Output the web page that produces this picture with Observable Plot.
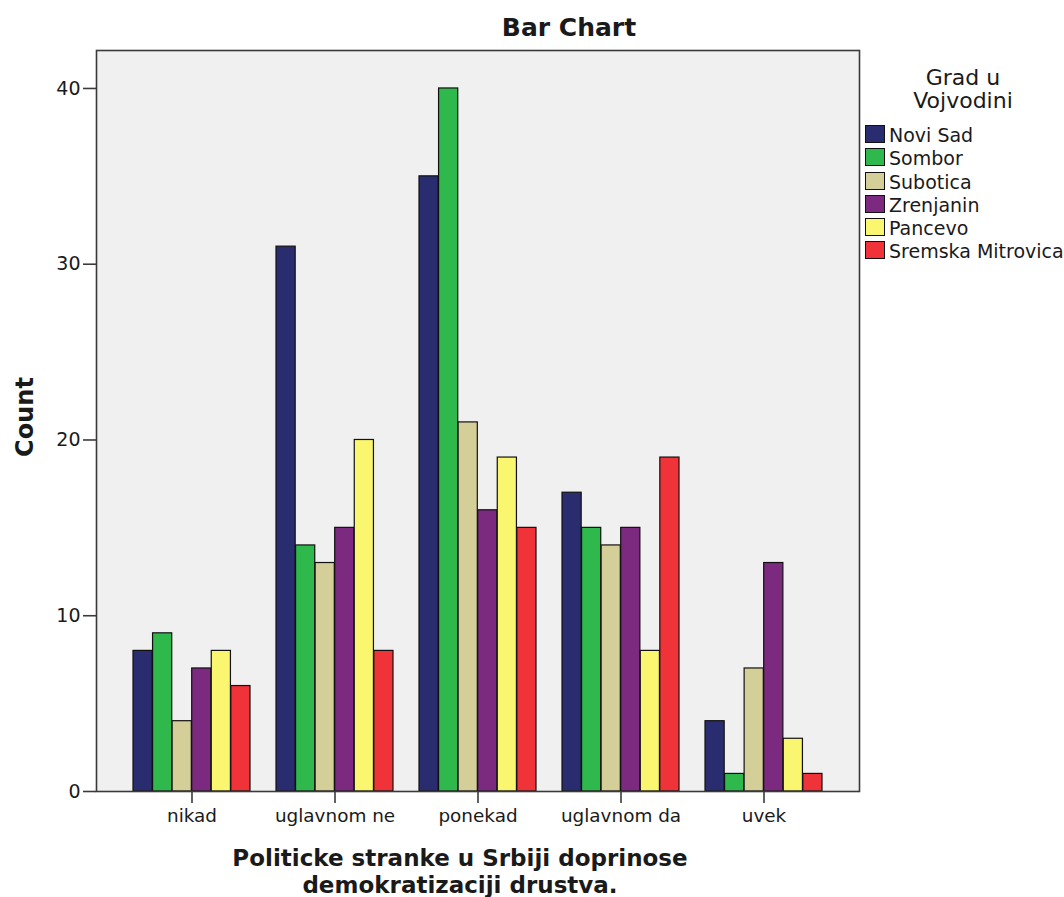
<!DOCTYPE html>
<html>
<head>
<meta charset="utf-8">
<script src="https://cdn.jsdelivr.net/npm/d3@7"></script>
<script src="https://cdn.jsdelivr.net/npm/@observablehq/plot@0.6"></script>
<style>
  html, body { margin: 0; padding: 0; background: #fff; }
  body { width: 1064px; height: 897px; position: relative; overflow: hidden; font-family: "DejaVu Sans", sans-serif; color: #1a1a1a; }
  #chart { position: absolute; left: 0; top: 0; }
  .abs { position: absolute; white-space: nowrap; }
  #title { left: 419px; width: 300px; top: 15px; text-align: center; font-weight: bold; font-size: 25px; line-height: 25px; }
  #ylab { left: 25px; top: 417px; transform: translate(-50%, -50%) rotate(-90deg); font-weight: bold; font-size: 24px; line-height: 24px; }
  .xlab { left: 160px; width: 600px; height: 27px; text-align: center; font-weight: bold; font-size: 23px; line-height: 27px; }
  #xlab1 { top: 844.5px; }
  #xlab2 { top: 871.5px; }
  #legend-title { left: 888px; width: 150px; top: 66px; text-align: center; font-size: 22px; line-height: 23px; }
  #legend { left: 865px; top: 124px; font-size: 19px; }
  .item { height: 23.3px; line-height: 23.3px; display: flex; align-items: flex-start; }
  .sw { width: 18px; height: 16px; border: 1px solid #111; margin-top: 1px; margin-right: 4px; box-sizing: content-box; }
</style>
</head>
<body>
<div id="chart"></div>
<div id="title" class="abs">Bar Chart</div>
<div id="ylab" class="abs">Count</div>
<div id="xlab1" class="abs xlab">Politicke stranke u Srbiji doprinose</div>
<div id="xlab2" class="abs xlab">demokratizaciji drustva.</div>
<div id="legend-title" class="abs">Grad u<br>Vojvodini</div>
<div id="legend" class="abs"></div>
<script>
// ---- data ----
const categories = ["nikad", "uglavnom ne", "ponekad", "uglavnom da", "uvek"];
const cities = ["Novi Sad", "Sombor", "Subotica", "Zrenjanin", "Pancevo", "Sremska Mitrovica"];
const noviSad = [8, 31, 35, 17, 4];
const sombor = [9, 14, 40, 15, 1];
const subotica = [4, 13, 21, 14, 7];
const zrenjanin = [7, 15, 16, 15, 13];
const pancevo = [8, 20, 19, 8, 3];
const sremskaMitrovica = [6, 8, 15, 19, 1];
const yTicks = [0, 10, 20, 30, 40];
const cityColors = ["#292c6e", "#2fb84b", "#d4cf98", "#7b2a7f", "#fbf66f", "#ef3338"];

const seriesValues = [noviSad, sombor, subotica, zrenjanin, pancevo, sremskaMitrovica];
const rows = [];
cities.forEach((city, i) => {
  categories.forEach((cat, j) => rows.push({ city, cat, value: seriesValues[i][j] }));
});

// ---- layout ----
const W = 1064, H = 897;
const mL = 96, mR = 205, mT = 50, mB = 106;
const pInner = 0.18, pOuter = 0.255;
const step = (W - mL - mR) / (categories.length - pInner + 2 * pOuter);
const bandW = step * (1 - pInner);
const barW = bandW / cities.length;

const barMarks = cities.map((city, i) =>
  Plot.barY(rows.filter(d => d.city === city), {
    x: "cat",
    y: "value",
    fill: "city",
    stroke: "#111",
    strokeWidth: 1.2,
    insetLeft: i * barW,
    insetRight: (cities.length - 1 - i) * barW
  })
);

const chart = Plot.plot({
  width: W,
  height: H,
  marginLeft: mL,
  marginRight: mR,
  marginTop: mT,
  marginBottom: mB,
  style: { fontFamily: "DejaVu Sans, sans-serif", background: "transparent", color: "#1a1a1a" },
  x: { type: "band", domain: categories, paddingInner: pInner, paddingOuter: pOuter, label: null },
  y: { domain: [0, 42.16], label: null },
  color: { domain: cities, range: cityColors },
  marks: [
    Plot.frame({ fill: "#f0f0f0" }),
    ...barMarks,
    Plot.frame({ stroke: "#3a3a3a", strokeWidth: 1.6 }),
    Plot.axisY({ ticks: yTicks, tickSize: 13, tickPadding: 3, fontSize: 19, label: null, stroke: "#3a3a3a", strokeWidth: 1.6 }),
    Plot.axisX({ tickSize: 12, tickPadding: 5, fontSize: 18.4, label: null, stroke: "#3a3a3a", strokeWidth: 1.6 })
  ]
});
document.getElementById("chart").appendChild(chart);

// ---- legend ----
const legend = document.getElementById("legend");
cities.forEach((city, i) => {
  const item = document.createElement("div");
  item.className = "item";
  const sw = document.createElement("div");
  sw.className = "sw";
  sw.style.background = cityColors[i];
  const label = document.createElement("span");
  label.textContent = city;
  item.appendChild(sw);
  item.appendChild(label);
  legend.appendChild(item);
});
</script>
</body>
</html>
